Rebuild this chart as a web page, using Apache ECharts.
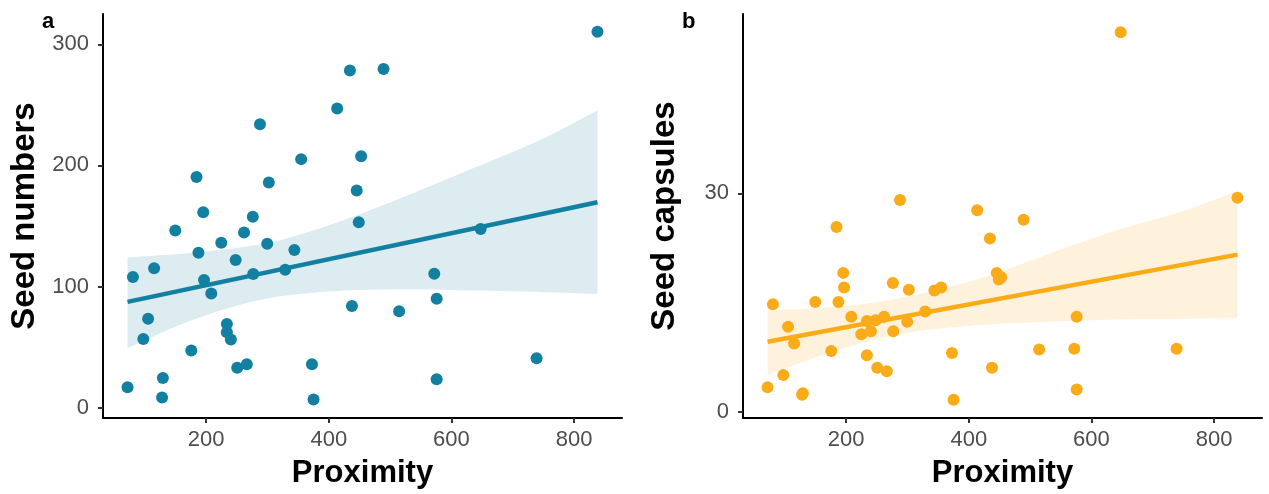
<!DOCTYPE html>
<html>
<head>
<meta charset="utf-8">
<script src="https://cdn.jsdelivr.net/npm/echarts@6/dist/echarts.min.js"></script>
<style>
  html, body { margin: 0; padding: 0; background: #fff; }
  #main { width: 1269px; height: 494px; }
</style>
</head>
<body>
<div id="main"></div>
<script>
// proximity is shared by both panels
var proximity = [72, 80.8, 97.7, 105.5, 115.3, 129.6, 128.3, 149.8, 175.9, 184.4,
  187.6, 195.4, 196.7, 208.5, 224.8, 233.9, 233.9, 240.4, 248.2, 250.8,
  261.9, 266.4, 276.2, 276.9, 287.9, 299.7, 302.3, 329, 344, 355,
  372.6, 375.2, 413.7, 434.5, 437.8, 445.6, 448.9, 452.8, 489.3, 514.7,
  572, 575.9, 575.9, 647.6, 738.8, 838];
var seedNumbers = [16.8, 107.9, 56.8, 73.4, 115.2, 24.5, 8.4, 146.2, 47.3, 190.5,
  128, 161.4, 105.4, 94.3, 136.1, 69, 62.2, 56.3, 122, 32.9,
  144.6, 35.9, 157.6, 110.3, 234, 135.3, 185.9, 113.9, 130.2, 205.2,
  35.9, 6.8, 247, 278.3, 84, 179.3, 153, 207.6, 279.6, 79.6,
  110.6, 90, 23.4, 147.6, 40.8, 310.3];
var seedCapsules = [3.4, 14.8, 5.1, 11.7, 9.4, 2.6, 2.4, 15.1, 8.4, 25.4,
  15.1, 19.1, 17.1, 13.1, 10.7, 12.5, 7.8, 11.1, 12.6, 6.1,
  13.1, 5.6, 17.7, 11.1, 29.1, 12.4, 16.8, 13.8, 16.7, 17.1,
  8.1, 1.7, 27.7, 23.8, 6.1, 19.1, 18.2, 18.5, 26.4, 8.6,
  8.7, 13.1, 3.1, 52.1, 8.7, 29.4];

// fitted line ends and confidence band
var fitX = [72, 838];
var fitNumbers = [87.4, 169.6];
var fitCapsules = [9.65, 21.6];
var bandX = [72, 150, 235, 315, 425, 530, 640, 750, 838];
var bandNumbersLow = [49, 66.8, 82, 91.5, 96.7, 97.8, 96.7, 95.4, 94];
var bandNumbersHigh = [124, 126.6, 131, 137.5, 155, 175.5, 198.6, 222.3, 245.6];
var bandCapsulesLow = [5.1, 7.5, 9.7, 11.1, 12.0, 12.4, 12.7, 12.8, 12.9];
var bandCapsulesHigh = [13.9, 14.3, 14.9, 16.1, 18.5, 21.7, 24.9, 27.6, 30.3];

var xTicks = [200, 400, 600, 800];
var numberTicks = [0, 100, 200, 300];
var capsuleTicks = [0, 30];

var BLUE = '#1380A1', ORANGE = '#FAAB18';
var FONT = 'Liberation Sans, Arial, sans-serif';

function zip(xs, ys) {
  return xs.map(function (x, i) { return [x, ys[i]]; });
}

function xAxis(idx) {
  return {
    gridIndex: idx, type: 'value', min: 32, max: 878,
    splitLine: { show: false },
    axisLine: { onZero: false, lineStyle: { color: '#000', width: 2 } },
    axisTick: { customValues: xTicks, length: 5, lineStyle: { color: '#333', width: 2 } },
    axisLabel: { customValues: xTicks, fontSize: 22, color: '#4d4d4d', margin: 11, fontFamily: FONT },
    name: 'Proximity', nameLocation: 'middle', nameGap: 40,
    nameTextStyle: { fontSize: 31, fontWeight: 'bold', color: '#000', fontFamily: FONT }
  };
}

function yAxis(idx, name, min, max, ticks) {
  return {
    gridIndex: idx, type: 'value', min: min, max: max,
    splitLine: { show: false },
    axisLine: { onZero: false, lineStyle: { color: '#000', width: 2 } },
    axisTick: { customValues: ticks, length: 5, lineStyle: { color: '#333', width: 2 } },
    axisLabel: { customValues: ticks, fontSize: 22, color: '#4d4d4d', margin: 14, fontFamily: FONT },
    name: name, nameLocation: 'middle', nameRotate: 90, nameGap: 62,
    nameTextStyle: { fontSize: 33, fontWeight: 'bold', color: '#000', fontFamily: FONT }
  };
}

function panelSeries(idx, ys, fitY, low, high, color, bandColor) {
  var stack = 'band' + idx;
  // band data given as [y, x] so the stack runs on y
  var lowData = bandX.map(function (x, i) { return [low[i], x]; });
  var diffData = bandX.map(function (x, i) { return [high[i] - low[i], x]; });
  return [{
    type: 'line', xAxisIndex: idx, yAxisIndex: idx, stack: stack, z: 1,
    data: lowData, encode: { x: 1, y: 0 }, smooth: 0.3, symbol: 'none', silent: true,
    lineStyle: { opacity: 0 }
  }, {
    type: 'line', xAxisIndex: idx, yAxisIndex: idx, stack: stack, z: 1,
    data: diffData, encode: { x: 1, y: 0 }, smooth: 0.3, symbol: 'none', silent: true,
    lineStyle: { opacity: 0 },
    areaStyle: { color: bandColor, opacity: 1 }
  }, {
    type: 'scatter', xAxisIndex: idx, yAxisIndex: idx, z: 3,
    data: zip(proximity, ys), symbolSize: 12,
    itemStyle: { color: color, opacity: 1 }
  }, {
    type: 'line', xAxisIndex: idx, yAxisIndex: idx, z: 4,
    data: zip(fitX, fitY), symbol: 'none', silent: true,
    lineStyle: { color: color, width: 4.5 }
  }];
}

var chart = echarts.init(document.getElementById('main'), null, { renderer: 'canvas' });
chart.setOption({
  animation: false,
  backgroundColor: '#fff',
  grid: [
    { left: 103, top: 14, width: 519, height: 409 },
    { left: 743, top: 14, width: 519, height: 409 }
  ],
  xAxis: [xAxis(0), xAxis(1)],
  yAxis: [
    yAxis(0, 'Seed numbers', -8.5, 325, numberTicks),
    yAxis(1, 'Seed capsules', -0.8, 54.6, capsuleTicks)
  ],
  graphic: [
    { type: 'text', left: 42, top: 11, style: { text: 'a', font: 'bold 22px ' + FONT, fill: '#000' } },
    { type: 'text', left: 682, top: 11, style: { text: 'b', font: 'bold 22px ' + FONT, fill: '#000' } }
  ],
  series: panelSeries(0, seedNumbers, fitNumbers, bandNumbersLow, bandNumbersHigh, BLUE, '#dcecf1')
    .concat(panelSeries(1, seedCapsules, fitCapsules, bandCapsulesLow, bandCapsulesHigh, ORANGE, '#fef2dc'))
});
</script>
</body>
</html>
